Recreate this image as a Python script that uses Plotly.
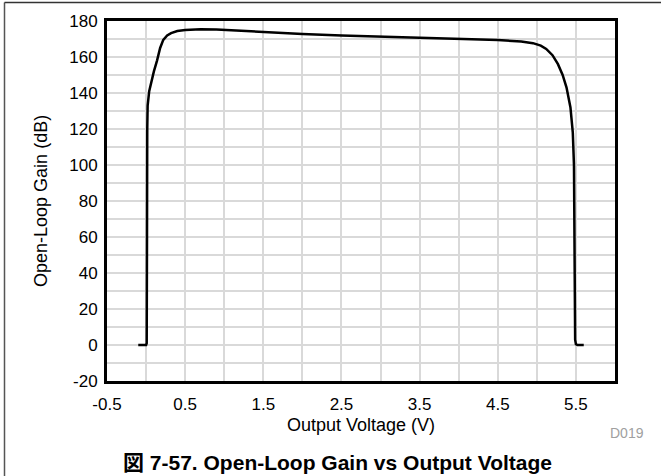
import plotly.graph_objects as go

# Open-loop gain vs output voltage (sampled curve)
voltage = [-0.10, 0.00, 0.008, 0.010, 0.012, 0.015, 0.02, 0.04, 0.07, 0.10, 0.14,
           0.18, 0.22, 0.27, 0.32, 0.40, 0.50, 0.70, 0.90, 1.20, 1.50, 2.00,
           2.50, 3.00, 3.50, 4.00, 4.50, 4.80, 4.95, 5.05, 5.12, 5.20, 5.27,
           5.33, 5.38, 5.43, 5.46, 5.475, 5.48, 5.485, 5.49, 5.50, 5.52, 5.60]
gain_db = [0.0, 0.0, 1.0, 10.0, 60.0, 120.0, 133.0, 141.0, 147.0, 152.0, 158.0,
           165.0, 169.5, 172.0, 173.3, 174.4, 175.0, 175.4, 175.3, 174.6, 173.8, 172.8,
           172.0, 171.3, 170.8, 170.2, 169.4, 168.6, 167.7, 166.3, 164.5, 161.0, 156.0,
           150.0, 143.0, 132.0, 118.0, 100.0, 70.0, 20.0, 3.0, 0.5, 0.0, 0.0]

x_ticks = [-0.5, 0.5, 1.5, 2.5, 3.5, 4.5, 5.5]
x_labels = ["-0.5", "0.5", "1.5", "2.5", "3.5", "4.5", "5.5"]
y_ticks = [-20, 0, 20, 40, 60, 80, 100, 120, 140, 160, 180]
y_labels = ["-20", "0", "20", "40", "60", "80", "100", "120", "140", "160", "180"]

FONT = "Liberation Sans, Arial, Helvetica, Noto Sans CJK JP, sans-serif"
GRID = "#d9d9d9"

fig = go.Figure()
fig.add_trace(go.Scatter(
    x=voltage, y=gain_db, mode="lines",
    line=dict(color="black", width=2.5),
    hoverinfo="skip", showlegend=False,
))

axis_common = dict(
    showline=True, mirror=True, linecolor="black", linewidth=3,
    showgrid=True, gridcolor=GRID, gridwidth=1.5,
    zeroline=False, ticks="",
    tickfont=dict(family=FONT, size=17, color="black"),
)

fig.update_xaxes(
    range=[-0.5, 6.0], tickvals=x_ticks, ticktext=x_labels, ticklabelstandoff=6,
    minor=dict(dtick=0.5, tick0=-0.5, showgrid=True, gridcolor=GRID, gridwidth=1.5),
    **axis_common,
)
fig.update_yaxes(
    range=[-20, 180], tickvals=y_ticks, ticktext=y_labels, ticklabelstandoff=3,
    minor=dict(dtick=10, tick0=-20, showgrid=True, gridcolor=GRID, gridwidth=1.5),
    **axis_common,
)

annotations = [
    dict(text="Open-Loop Gain (dB)", x=-0.13, y=0.5, textangle=-90,
         font=dict(family=FONT, size=18, color="black")),
    dict(text="Output Voltage (V)", x=0.5, y=-0.122,
         font=dict(family=FONT, size=18, color="black")),
    dict(text="D019", x=1.0236, y=-0.144,
         font=dict(family=FONT, size=14, color="#a0a0a0")),
    dict(text="<b>図 7-57. Open-Loop Gain vs Output Voltage</b>", x=0.453, y=-0.225,
         font=dict(family=FONT, size=21, color="black")),
]
for a in annotations:
    a.update(xref="paper", yref="paper", showarrow=False, xanchor="center", yanchor="middle")
fig.update_layout(annotations=annotations)

# Outer figure frame (left and top edges)
fig.add_shape(type="line", xref="paper", yref="paper",
              x0=(4.5 - 107) / 508, x1=(4.5 - 107) / 508, y0=(381 - 476) / 360, y1=(381 - 2.5) / 360,
              line=dict(color="#555555", width=1.5))
fig.add_shape(type="line", xref="paper", yref="paper",
              x0=(4.5 - 107) / 508, x1=(661 - 107) / 508, y0=(381 - 2.5) / 360, y1=(381 - 2.5) / 360,
              line=dict(color="#333333", width=1.5))

fig.update_layout(
    width=661, height=476,
    margin=dict(l=107, r=46, t=21, b=95),
    paper_bgcolor="white", plot_bgcolor="white",
    font=dict(family=FONT),
)

fig.write_html("out.html")
